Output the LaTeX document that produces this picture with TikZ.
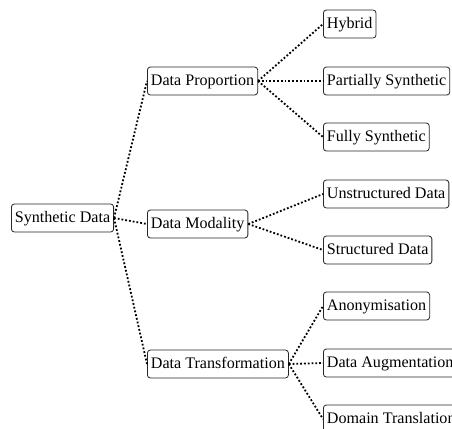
\documentclass[tikz,border=0pt]{standalone}
\usepackage{fontspec}
\setmainfont{Liberation Serif}
\begin{document}
\begin{tikzpicture}[x=1bp,y=-1bp,
  box/.style={draw=black!85, line width=0.8bp, rounded corners=3bp, anchor=west,
    font=\fontsize{16.1bp}{19bp}\selectfont, inner xsep=3.5bp, inner ysep=0bp,
    minimum height=28bp, text height=11.5bp, text depth=3.5bp},
  link/.style={dotted, line width=1.8bp}]
\useasboundingbox (0,0) rectangle (452,428);
\clip (0,0) rectangle (452,428);
\node[box] (root) at (11,218) {Synthetic Data};
\node[box] (prop) at (147,81) {Data Proportion};
\node[box] (moda) at (147,224) {Data Modality};
\node[box] (tran) at (147,364) {Data Transformation};
\node[box] (hyb) at (323,24) {Hybrid};
\node[box] (part) at (323,81) {Partially Synthetic};
\node[box] (full) at (323,137) {Fully Synthetic};
\node[box] (unst) at (323,194) {Unstructured Data};
\node[box] (stru) at (323,250) {Structured Data};
\node[box] (anon) at (323,306) {Anonymisation};
\node[box] (augm) at (323,363) {Data Augmentation};
\node[box] (doma) at (323,419) {Domain Translation};
\foreach \c in {prop,moda,tran} \draw[link] (root.east) -- (\c.west);
\foreach \c in {hyb,part,full} \draw[link] (prop.east) -- (\c.west);
\foreach \c in {unst,stru} \draw[link] (moda.east) -- (\c.west);
\foreach \c in {anon,augm,doma} \draw[link] (tran.east) -- (\c.west);
\end{tikzpicture}
\end{document}
